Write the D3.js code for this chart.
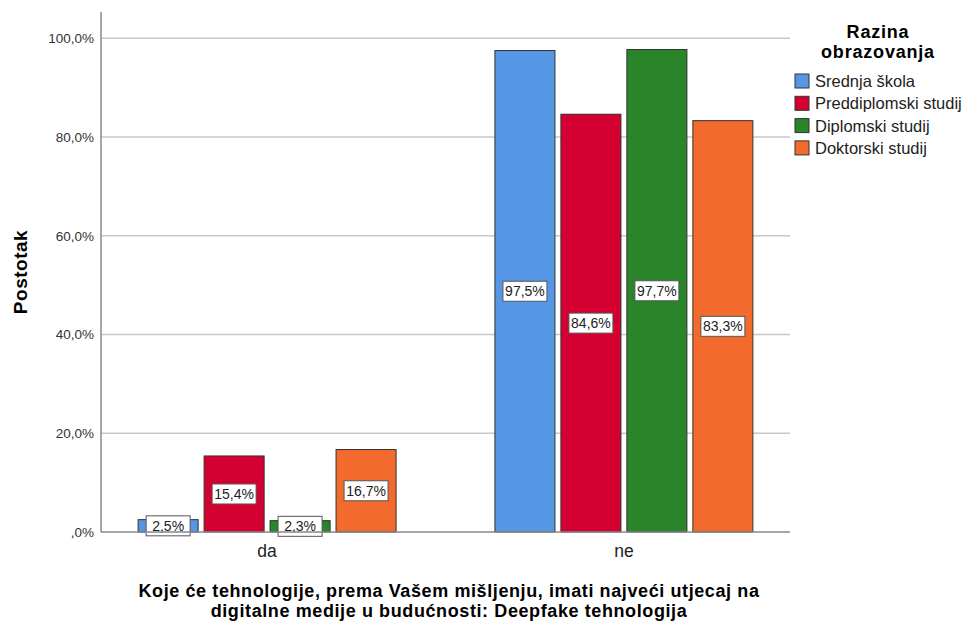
<!DOCTYPE html>
<html>
<head>
<meta charset="utf-8">
<script src="https://cdn.jsdelivr.net/npm/d3@7"></script>
<style>
  body { margin: 0; background: #fff; }
  text { font-family: "Liberation Sans", Arial, sans-serif; }
</style>
</head>
<body>
<svg id="chart" width="963" height="622"></svg>
<script>
// answers on the x axis and the education groups in the legend
const answers = ["da", "ne"];
const groups = ["Srednja škola", "Preddiplomski studij", "Diplomski studij", "Doktorski studij"];
const groupColors = ["#5597e5", "#d50032", "#2a842a", "#f26a2c"];

// percent per answer, in group order
const daValues = [2.5, 15.4, 2.3, 16.7];
const neValues = [97.5, 84.6, 97.7, 83.3];
const yTicks = [0, 20, 40, 60, 80, 100];

const rows = answers.map(function(a, i) {
    const vals = i === 0 ? daValues : neValues;
    return { answer: a, values: groups.map(function(g, j) { return { group: g, value: vals[j], idx: j }; }) };
});

const svg = d3.select("#chart");
const plotLeft = 101, plotRight = 790, plotTop = 12, plotBottom = 532;

const x = d3.scaleBand().domain(answers).range([plotLeft, plotRight]).paddingInner(0.277).paddingOuter(0.104);
const xInner = d3.scaleBand().domain(groups).range([0, x.bandwidth()]).paddingInner(0.09);
const y = d3.scaleLinear().domain([0, 105.3]).range([plotBottom, plotTop]);
const fmt = function(v) { return v === 0 ? ",0%" : d3.format(".1f")(v).replace(".", ",") + "%"; };

// gridlines
svg.append("g")
    .selectAll("line")
    .data(yTicks.filter(function(d) { return d > 0; }))
    .enter().append("line")
    .attr("x1", plotLeft).attr("x2", plotRight)
    .attr("y1", function(d) { return y(d); })
    .attr("y2", function(d) { return y(d); })
    .style("stroke", "#c8c8c8").style("stroke-width", 1.5);

// y axis
const yAxis = svg.append("g")
    .attr("transform", "translate(" + plotLeft + ",0)")
    .call(d3.axisLeft(y).tickValues(yTicks).tickSize(0).tickPadding(7).tickFormat(fmt));
yAxis.select(".domain").remove();
yAxis.selectAll("text").style("font-size", "13.5px").style("fill", "#333");

svg.append("line")
    .attr("x1", plotLeft).attr("x2", plotLeft).attr("y1", plotTop).attr("y2", plotBottom)
    .style("stroke", "#888").style("stroke-width", 1.5);

// bars
const grp = svg.append("g").selectAll("g")
    .data(rows)
    .enter().append("g")
    .attr("transform", function(d) { return "translate(" + x(d.answer) + ",0)"; });

grp.selectAll("rect")
    .data(function(d) { return d.values; })
    .enter().append("rect")
    .attr("x", function(d) { return xInner(d.group); })
    .attr("y", function(d) { return y(d.value); })
    .attr("width", xInner.bandwidth())
    .attr("height", function(d) { return y(0) - y(d.value); })
    .style("fill", function(d) { return groupColors[d.idx]; })
    .style("stroke", "#333").style("stroke-width", 1);

// x axis line
svg.append("line")
    .attr("x1", plotLeft).attr("x2", plotRight).attr("y1", plotBottom).attr("y2", plotBottom)
    .style("stroke", "#888").style("stroke-width", 1.5);

// value labels in white boxes
const lab = grp.selectAll("g.lab")
    .data(function(d) { return d.values; })
    .enter().append("g")
    .attr("class", "lab")
    .attr("transform", function(d) {
        return "translate(" + (xInner(d.group) + xInner.bandwidth() / 2) + "," + ((y(d.value) + y(0)) / 2) + ")";
    });
lab.append("rect")
    .attr("x", -22).attr("y", -10).attr("width", 44).attr("height", 20)
    .style("fill", "#fff").style("stroke", "#555").style("stroke-width", 1);
lab.append("text")
    .attr("text-anchor", "middle").attr("dy", "0.36em")
    .style("font-size", "14px").style("fill", "#222")
    .text(function(d) { return fmt(d.value); });

// category labels
svg.append("g").selectAll("text")
    .data(answers)
    .enter().append("text")
    .attr("x", function(d) { return x(d) + x.bandwidth() / 2; })
    .attr("y", 557)
    .attr("text-anchor", "middle")
    .style("font-size", "17.5px").style("fill", "#222")
    .text(function(d) { return d; });

// axis titles
svg.append("text")
    .attr("transform", "translate(27,272) rotate(-90)")
    .attr("text-anchor", "middle")
    .style("font-size", "19px").style("font-weight", "bold").style("letter-spacing", "0.5px")
    .text("Postotak");

const xTitle = ["Koje će tehnologije, prema Vašem mišljenju, imati najveći utjecaj na",
                "digitalne medije u budućnosti: Deepfake tehnologija"];
svg.append("g").selectAll("text")
    .data(xTitle)
    .enter().append("text")
    .attr("x", 449).attr("y", function(d, i) { return 597 + i * 20; })
    .attr("text-anchor", "middle")
    .style("font-size", "18px").style("font-weight", "bold").style("letter-spacing", "0.6px")
    .text(function(d) { return d; });

// legend
const legTitle = ["Razina", "obrazovanja"];
svg.append("g").selectAll("text")
    .data(legTitle)
    .enter().append("text")
    .attr("x", 878).attr("y", function(d, i) { return 38 + i * 20; })
    .attr("text-anchor", "middle")
    .style("font-size", "18px").style("font-weight", "bold").style("letter-spacing", "0.8px")
    .text(function(d) { return d; });

const leg = svg.append("g").selectAll("g")
    .data(groups)
    .enter().append("g")
    .attr("transform", function(d, i) { return "translate(795," + (74 + i * 22.3) + ")"; });
leg.append("rect")
    .attr("width", 14).attr("height", 14)
    .style("fill", function(d, i) { return groupColors[i]; })
    .style("stroke", "#333").style("stroke-width", 1);
leg.append("text")
    .attr("x", 20).attr("y", 13)
    .style("font-size", "16.5px").style("fill", "#222")
    .text(function(d) { return d; });
</script>
</body>
</html>
